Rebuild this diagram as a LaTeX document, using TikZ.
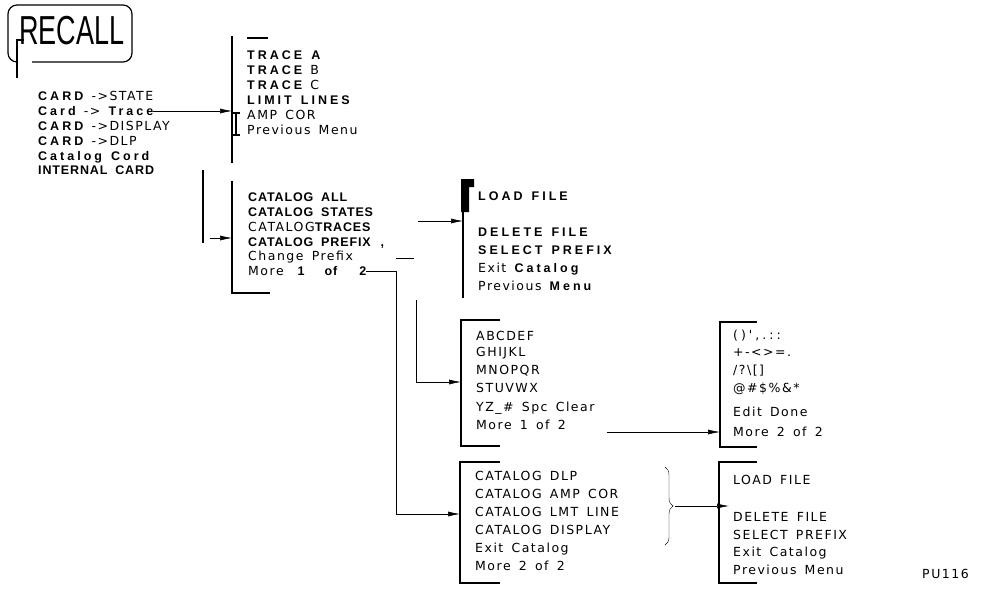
\documentclass[tikz,border=0pt]{standalone}
\usepackage{fontspec}
\setmainfont{Liberation Sans}
\newfontfamily\hp[LetterSpace=12,WordSpace=1.5]{DejaVu Sans}
\newfontfamily\hpb[LetterSpace=7,WordSpace=1.8]{Liberation Sans Bold}
\newfontfamily\hpw[LetterSpace=24,WordSpace=1.4]{Liberation Sans Bold}
\usetikzlibrary{arrows.meta,decorations.pathreplacing}
\newcommand{\gr}[1]{{\hpb #1}}
\newcommand{\grw}[1]{{\hpw #1}}
\begin{document}
\begin{tikzpicture}[x=1pt, y=-1pt,
    menu/.style={anchor=west, inner sep=0pt, text height=9pt, text depth=0pt,
                 font=\hp\fontsize{12.5}{15}\selectfont},
    barre/.style={line width=1.6pt},
    fleche/.style={semithick, -{Latex[length=12pt,width=5pt]}}]
\useasboundingbox (0,0) rectangle (993,595);

% Touche RECALL
\draw[line width=1.2pt, rounded corners=9pt] (18,62) -- (8,62) -- (8,5) -- (132,5) -- (132,62) -- (32,62);
\draw[line width=1.2pt] (24,40) -- (17,40) -- (17,78);
\node[anchor=base west, inner sep=0pt, font=\fontsize{27}{29}\selectfont] (recall) at (19,44) {\scalebox{1}[1.5]{RECALL}};

% Menu principal
\node[menu] (m1) at (38,96)  {\grw{CARD} ->STATE};
\node[menu] (m2) at (38,111) {\grw{Card} -> \grw{Trace}};
\node[menu] (m3) at (38,126) {\grw{CARD} ->DISPLAY};
\node[menu] (m4) at (38,141) {\grw{CARD} ->DLP};
\node[menu] (m5) at (38,156) {\grw{Catalog Cord}};
\node[menu] (m6) at (38,170) {\gr{INTERNAL CARD}};

% Menu des traces
\coordinate (tbar) at (232,36);
\draw[barre] (tbar) -- (232,163);
\draw[barre] (247,38) -- (268,38);
\draw[very thick] (236,113) -- (236,135) (232,113) -- (240,113) (232,135) -- (240,135);
\node[menu] (t1) at (247,55)  {\grw{TRACE A}};
\node[menu] (t2) at (247,70)  {\grw{TRACE} B};
\node[menu] (t3) at (247,85)  {\grw{TRACE} C};
\node[menu] (t4) at (247,100) {\grw{LIMIT LINES}};
\node[menu] (t5) at (247,115) {AMP COR};
\node[menu] (t6) at (247,130) {Previous Menu};
\draw[fleche] (m2.east) -- (m2.east -| tbar);

% Menu catalogue
\draw[barre] (203,170) -- (203,243);
\coordinate (cbar) at (232,181);
\draw[barre] (cbar) -- (232,293) -- (270,293);
\node[menu] (c1) at (248,197) {\gr{CATALOG ALL}};
\node[menu] (c2) at (248,212) {\gr{CATALOG STATES}};
\node[menu] (c3) at (248,227) {CATALOG\gr{TRACES}};
\node[menu] (c4) at (248,242) {\gr{CATALOG PREFIX\hspace{10pt},}};
\node[menu] (c5) at (248,256) {Change Prefix};
\node[menu] (c6) at (248,271) {More\hspace{14pt}\gr{1\hspace{20pt}of\hspace{22pt}2}};
\coordinate (cin) at (210,238);
\draw[fleche] (cin) -- (cin -| cbar);
\draw[thick] (396,258) -- (414,258);

% Menu des fichiers
\fill (461,179) -- (474,179) -- (474,187) -- (469,187) -- (469,212) -- (461,212) -- cycle;
\coordinate (fbar) at (463,205);
\draw[barre] (fbar) -- (463,298);
\node[menu] (f1) at (478,196) {\grw{LOAD FILE}};
\node[menu] (f2) at (478,232) {\grw{DELETE FILE}};
\node[menu] (f3) at (478,250) {\grw{SELECT PREFIX}};
\node[menu] (f4) at (478,268) {Exit \grw{Catalog}};
\node[menu] (f5) at (478,286) {Previous \grw{Menu}};
\coordinate (fin) at (418,221);
\draw[fleche] (fin) -- (fin -| fbar);

% Menu des lettres
\coordinate (lbar) at (461,320);
\draw[barre] (500,320) -- (lbar) -- (461,446) -- (500,446);
\node[menu] (l1) at (476,336) {ABCDEF};
\node[menu] (l2) at (476,352) {GHIJKL};
\node[menu] (l3) at (476,370) {MNOPQR};
\node[menu] (l4) at (476,388) {STUVWX};
\node[menu] (l5) at (476,407) {YZ\_\# Spc Clear};
\node[menu] (l6) at (476,425) {More 1 of 2};
\coordinate (lin) at (416,300);
\draw[fleche] (lin) |- (461,382);

% Menu des symboles
\coordinate (sbar) at (720,322);
\draw[barre] (757,322) -- (sbar) -- (720,447) -- (757,447);
\node[menu] (s1) at (733,335) {(\hspace{3pt})\hspace{3pt}'\hspace{3pt},\hspace{3pt}.\hspace{3pt}:\hspace{3pt}:};
\node[menu] (s2) at (733,352) {+-<>=.};
\node[menu] (s3) at (733,370) {/?\textbackslash[]};
\node[menu] (s4) at (733,388) {@\#\$\%\&*};
\node[menu] (s5) at (733,412) {Edit Done};
\node[menu] (s6) at (733,432) {More 2 of 2};
\coordinate (sin) at (607,432);
\draw[fleche] (sin) -- (sin -| sbar);

% Menu catalogue 2
\coordinate (kbar) at (460,462);
\draw[barre] (500,462) -- (kbar) -- (460,583) -- (500,583);
\node[menu] (k1) at (475,476) {CATALOG DLP};
\node[menu] (k2) at (475,494) {CATALOG AMP COR};
\node[menu] (k3) at (475,512) {CATALOG LMT LINE};
\node[menu] (k4) at (475,530) {CATALOG DISPLAY};
\node[menu] (k5) at (475,548) {Exit Catalog};
\node[menu] (k6) at (475,566) {More 2 of 2};
\coordinate (kcoude) at (396,271);
\draw[thick] (c6.east) -- (kcoude);
\draw[fleche] (kcoude) |- (460,514);
\draw[decorate, decoration={brace, amplitude=8pt}] (665,467) -- coordinate (acc) (665,545);

% Menu des fichiers 2
\coordinate (gbar) at (719,462);
\draw[barre] (757,462) -- (gbar) -- (719,583) -- (757,583);
\node[menu] (g1) at (733,480) {LOAD FILE};
\node[menu] (g2) at (733,517) {DELETE FILE};
\node[menu] (g3) at (733,535) {SELECT PREFIX};
\node[menu] (g4) at (733,552) {Exit Catalog};
\node[menu] (g5) at (733,570) {Previous Menu};
\draw[fleche] ([xshift=10pt]acc) -- ([xshift=10pt]acc -| gbar);
\node[menu] (ref) at (922,574) {PU116};
\end{tikzpicture}
\end{document}
